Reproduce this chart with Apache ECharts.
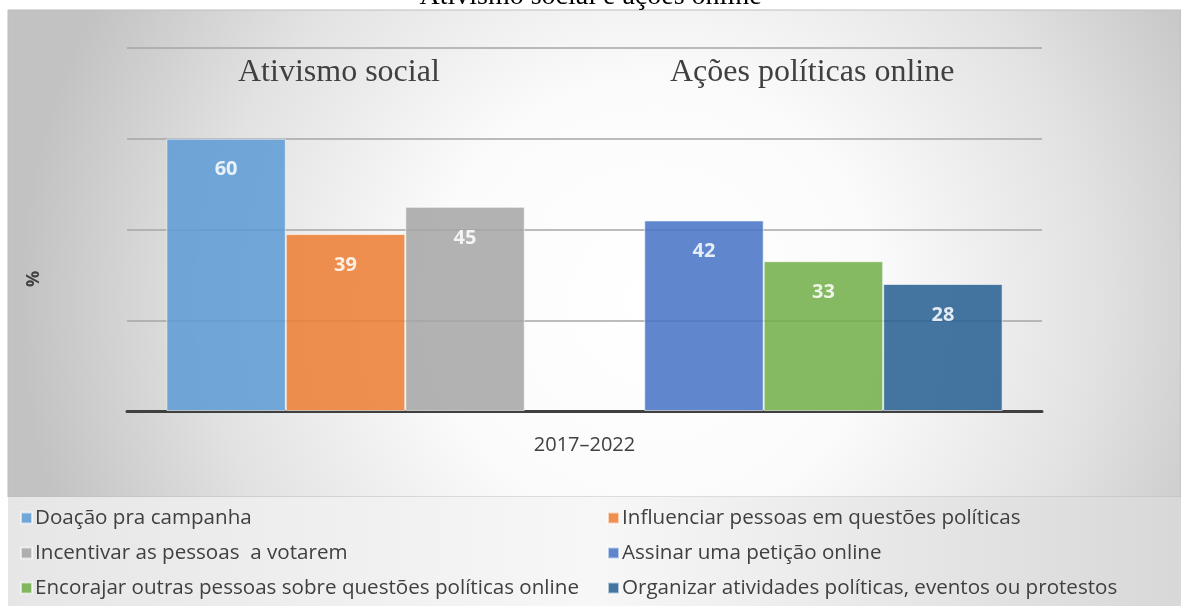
<!DOCTYPE html>
<html>
<head>
<meta charset="utf-8">
<script src="https://cdn.jsdelivr.net/npm/echarts@6/dist/echarts.min.js"></script>
<style>
  html, body {margin: 0; padding: 0; background: #fff;}
  #chart {width: 1181px; height: 606px;}
</style>
</head>
<body>
<div id="chart"></div>
<script>
// dados
const categories = ['2017–2022'];
const seriesNames = [
  'Doação pra campanha',
  'Influenciar pessoas em questões políticas',
  'Incentivar as pessoas  a votarem',
  'Assinar uma petição online',
  'Encorajar outras pessoas sobre questões políticas online',
  'Organizar atividades políticas, eventos ou protestos'
];
const seriesValues = [60, 39, 45, 42, 33, 28];
const seriesColors = ['#5B9BD5', '#ED7D31', '#A5A5A5', '#4472C4', '#70AD47', '#255E91'];
const groupLabels = ['Ativismo social', 'Ações políticas online'];
const yTicks = [0, 20, 40, 60, 80];

const chart = echarts.init(document.getElementById('chart'));

const sansFont = 'Open Sans';
const serifFont = 'Liberation Serif';

let series = seriesNames.map((name, i) => ({
  name: name,
  type: 'bar',
  data: [seriesValues[i]],
  barGap: '0%',
  barCategoryGap: '8.6%',
  itemStyle: {
    color: seriesColors[i],
    opacity: 0.85,
    borderColor: 'rgba(255,255,255,0.7)',
    borderWidth: 1
  },
  label: {
    show: true,
    position: 'insideTop',
    distance: 21,
    color: '#fff',
    fontFamily: sansFont,
    fontWeight: 'bold',
    fontSize: 20
  }
}));
// espaço vazio entre os dois grupos
series.splice(3, 0, {
  name: '_gap', type: 'bar', data: ['-'], barGap: '0%', barCategoryGap: '8.6%', silent: true
});

const legendStyle = {
  orient: 'vertical',
  top: 506,
  height: 110,
  padding: 0,
  itemWidth: 11,
  itemHeight: 11,
  itemGap: 11,
  icon: 'rect',
  textStyle: {color: '#404040', fontSize: 20.6, lineHeight: 24, fontFamily: sansFont, padding: [0, 0, 0, -2]}
};

chart.setOption({
  backgroundColor: '#fff',
  animation: false,
  title: {
    text: 'Ativismo social e ações online',
    left: 'center',
    top: -22,
    textStyle: {fontFamily: serifFont, fontWeight: 'normal', fontSize: 28, color: '#000'}
  },
  graphic: [
    {
      type: 'rect', z: -10, silent: true,
      shape: {x: 8, y: 10, width: 1173, height: 487},
      style: {
        fill: {
          type: 'radial', x: 0.55, y: 0.6, r: 1.3,
          colorStops: [
            {offset: 0, color: '#ffffff'},
            {offset: 0.35, color: '#fbfbfb'},
            {offset: 0.7, color: '#e2e2e2'},
            {offset: 1, color: '#c2c2c2'}
          ]
        },
        stroke: '#bdbdbd', lineWidth: 1
      }
    },
    {
      type: 'rect', z: -10, silent: true,
      shape: {x: 8, y: 497, width: 1173, height: 109},
      style: {
        fill: {
          type: 'linear', x: 0, y: 0, x2: 1, y2: 0,
          colorStops: [{offset: 0, color: '#e6e6e6'}, {offset: 0.5, color: '#f7f7f7'}, {offset: 1, color: '#d8d8d8'}]
        }
      }
    },
    {
      type: 'text', left: 238, top: 57,
      style: {text: groupLabels[0], font: '32px "Liberation Serif"', fill: '#404040'}
    },
    {
      type: 'text', left: 670, top: 57,
      style: {text: groupLabels[1], font: '32px "Liberation Serif"', fill: '#404040'}
    },
    {
      type: 'text', x: 25, y: 287, rotation: Math.PI / 2,
      style: {text: '%', font: 'bold 18px "Open Sans"', fill: '#404040'}
    }
  ],
  legend: [
    Object.assign({left: 20, data: [seriesNames[0], seriesNames[2], seriesNames[4]]}, legendStyle),
    Object.assign({left: 607, data: [seriesNames[1], seriesNames[3], seriesNames[5]]}, legendStyle)
  ],
  grid: {left: 127, right: 139, top: 48, bottom: 195},
  xAxis: {
    type: 'category',
    data: categories,
    axisLine: {lineStyle: {color: '#404040', width: 3}},
    axisTick: {show: false},
    axisLabel: {color: '#404040', fontSize: 20, fontFamily: sansFont, margin: 24}
  },
  yAxis: {
    type: 'value',
    min: yTicks[0],
    max: yTicks[yTicks.length - 1],
    interval: 20,
    axisLabel: {show: false},
    axisLine: {show: false},
    axisTick: {show: false},
    splitLine: {lineStyle: {color: '#a6a6a6', width: 1.5}}
  },
  series: series
});
</script>
</body>
</html>
